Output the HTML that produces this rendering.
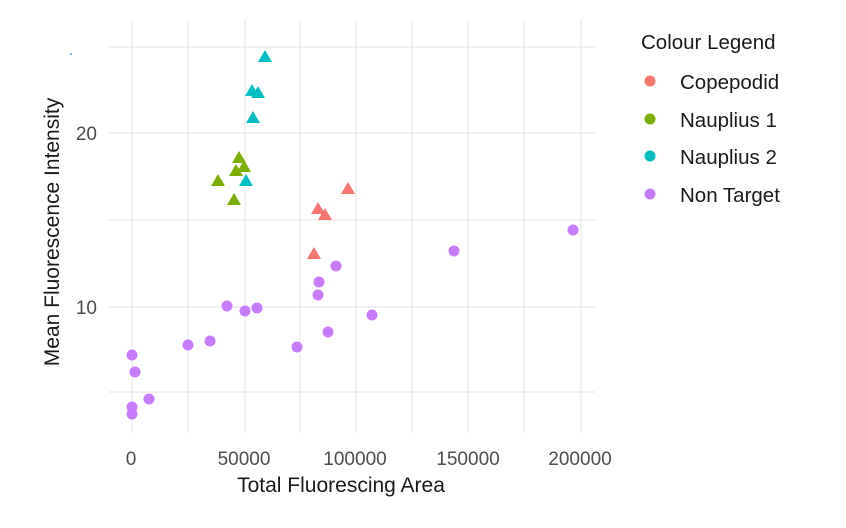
<!DOCTYPE html>
<html><head><meta charset="utf-8"><style>
body{margin:0;background:#fff;}
svg text{font-family:"Liberation Sans",sans-serif;}
</style></head><body>
<svg width="846" height="523" xmlns="http://www.w3.org/2000/svg">
<rect width="846" height="523" fill="#fff"/>
<g stroke="#ebebeb" stroke-width="1.4">
<line x1="132" y1="20" x2="132" y2="433"/><line x1="188" y1="20" x2="188" y2="433"/>
<line x1="245" y1="20" x2="245" y2="433"/><line x1="300" y1="20" x2="300" y2="433"/>
<line x1="356" y1="20" x2="356" y2="433"/><line x1="412" y1="20" x2="412" y2="433"/>
<line x1="468" y1="20" x2="468" y2="433"/><line x1="524" y1="20" x2="524" y2="433"/>
<line x1="581" y1="20" x2="581" y2="433"/>
<line x1="109" y1="47" x2="595" y2="47"/><line x1="109" y1="133" x2="595" y2="133"/>
<line x1="109" y1="220" x2="595" y2="220"/><line x1="109" y1="307" x2="595" y2="307"/>
<line x1="109" y1="392" x2="595" y2="392"/>
</g>
<g fill="#00BFC4">
<polygon points="265,50 272,62 258,62"/><polygon points="252,84 259,96 245,96"/><polygon points="258,86 265,98 251,98"/>
<polygon points="253,111 260,123 246,123"/><polygon points="246,174 253,186 239,186"/>
</g>
<g fill="#7CAE00">
<polygon points="239,151 246,163 232,163"/><polygon points="244,160 251,172 237,172"/><polygon points="236,164 243,176 229,176"/>
<polygon points="218,174 225,186 211,186"/><polygon points="234,193 241,205 227,205"/>
</g>
<g fill="#F8766D">
<polygon points="348,182 355,194 341,194"/><polygon points="318,202 325,214 311,214"/><polygon points="325,208 332,220 318,220"/>
<polygon points="314,247 321,259 307,259"/>
</g>
<g fill="#C77CFF">
<circle cx="573" cy="230" r="5.5"/><circle cx="454" cy="251" r="5.5"/><circle cx="336" cy="266" r="5.5"/><circle cx="319" cy="282" r="5.5"/>
<circle cx="318" cy="295" r="5.5"/><circle cx="227" cy="306" r="5.5"/><circle cx="257" cy="308" r="5.5"/><circle cx="245" cy="311" r="5.5"/>
<circle cx="372" cy="315" r="5.5"/><circle cx="328" cy="332" r="5.5"/><circle cx="210" cy="341" r="5.5"/><circle cx="188" cy="345" r="5.5"/>
<circle cx="297" cy="347" r="5.5"/><circle cx="132" cy="355" r="5.5"/><circle cx="135" cy="372" r="5.5"/><circle cx="149" cy="399" r="5.5"/>
<circle cx="132" cy="407" r="5.5"/><circle cx="132" cy="414" r="5.5"/>
</g>
<circle cx="71" cy="54" r="1" fill="#5aa0d0"/>
<g fill="#4d4d4d" font-size="19" text-anchor="middle">
<text x="131" y="465">0</text><text x="244" y="465">50000</text><text x="355" y="465">100000</text>
<text x="468" y="465">150000</text><text x="580" y="465">200000</text>
<text x="97" y="140" text-anchor="end">20</text><text x="97" y="314" text-anchor="end">10</text>
</g>
<text x="341" y="492" font-size="21" fill="#1a1a1a" text-anchor="middle">Total Fluorescing Area</text>
<text transform="translate(59,232) rotate(-90)" font-size="21" fill="#1a1a1a" text-anchor="middle">Mean Fluorescence Intensity</text>
<text x="641" y="49" font-size="20.5" fill="#1a1a1a">Colour Legend</text>
<g font-size="20.5" fill="#1a1a1a">
<circle cx="650" cy="81" r="5.5" fill="#F8766D"/><text x="680" y="89">Copepodid</text>
<circle cx="650" cy="119" r="5.5" fill="#7CAE00"/><text x="680" y="127">Nauplius 1</text>
<circle cx="650" cy="156" r="5.5" fill="#00BFC4"/><text x="680" y="164">Nauplius 2</text>
<circle cx="650" cy="194" r="5.5" fill="#C77CFF"/><text x="680" y="202">Non Target</text>
</g>
</svg>
</body></html>
